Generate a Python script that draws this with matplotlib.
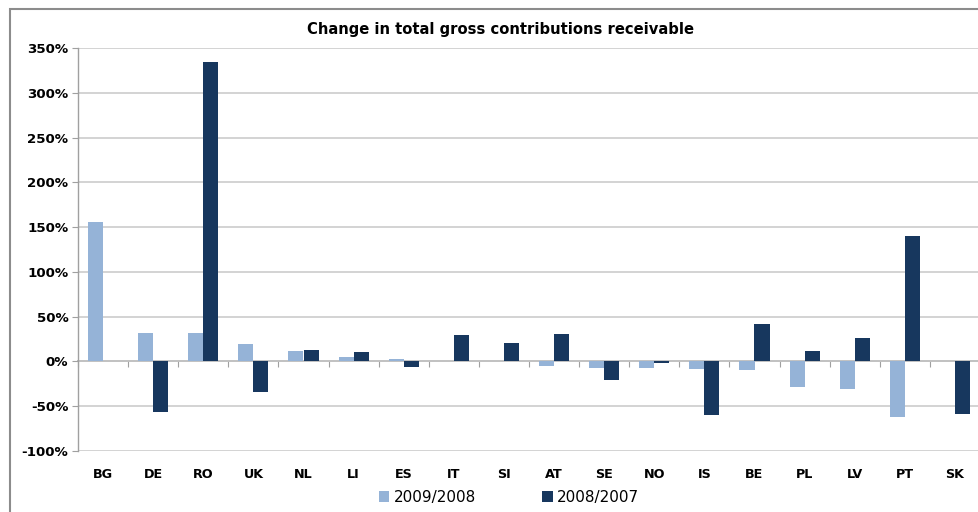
import numpy as np
import matplotlib.pyplot as plt
from matplotlib.patches import Rectangle
from matplotlib.ticker import FuncFormatter

# --- data (in %) ---
countries = ['BG', 'DE', 'RO', 'UK', 'NL', 'LI', 'ES', 'IT', 'SI',
             'AT', 'SE', 'NO', 'IS', 'BE', 'PL', 'LV', 'PT', 'SK']
chg_2009_2008 = [156, 32, 32, 19, 12, 5, 3, 1, 0,
                 -5, -7, -7, -8, -10, -28, -31, -62, 0]
chg_2008_2007 = [0, -57, 334, -34, 13, 10, -6, 30, 21,
                 31, -21, -2, -60, 42, 12, 26, 140, -59]

light = '#95B3D7'
dark = '#17375E'
grid_c = '#C8C8C8'
axis_c = '#A0A0A0'

fig = plt.figure(figsize=(9.79, 5.12), dpi=100)
ax = fig.add_axes([78 / 979, 1 - 451 / 512, 902 / 979, 403 / 512])

x = np.arange(len(countries))
w = 0.3
ax.bar(x - w / 2, chg_2009_2008, w, color=light, label='2009/2008', zorder=3)
ax.bar(x + w / 2, chg_2008_2007, w, color=dark, label='2008/2007', zorder=3)

ymin, ymax = -100, 350
ax.set_ylim(ymin, ymax)
ax.set_xlim(-0.5, len(countries) - 0.5)
ax.set_yticks(np.arange(ymin, ymax + 1, 50))
ax.yaxis.set_major_formatter(FuncFormatter(lambda v, p: f'{v:.0f}%'))
ax.grid(axis='y', color=grid_c, lw=1.1, zorder=0)

# category labels along the bottom, no tick marks
ax.set_xticks(x)
ax.set_xticklabels(countries, fontweight='bold', fontsize=9.2)
ax.tick_params(axis='x', length=0, pad=12)
ax.tick_params(axis='y', length=4, color=axis_c, labelsize=9.6, pad=3)
for lbl in ax.get_yticklabels():
    lbl.set_fontweight('bold')

for s in ['top', 'right', 'bottom']:
    ax.spines[s].set_visible(False)
ax.spines['left'].set_color(axis_c)
ax.spines['left'].set_linewidth(1.0)

# category axis drawn at 0% with boundary ticks
zero_pos = (0 - ymin) / (ymax - ymin)
sec = ax.secondary_xaxis(zero_pos)
sec.set_xticks(np.arange(-0.5, len(countries), 1.0))
sec.tick_params(axis='x', direction='out', length=4, color=axis_c, labelbottom=False,
                labeltop=False, top=False, bottom=True)
sec.spines['bottom'].set_color(axis_c)
sec.spines['bottom'].set_linewidth(1.2)
sec.spines['top'].set_visible(False)

fig.text(0.511, 0.943, 'Change in total gross contributions receivable',
         ha='center', va='center', fontsize=10.6, fontweight='bold')

leg = fig.legend(loc='center', bbox_to_anchor=(0.52, 0.028), ncol=2, frameon=False,
                 fontsize=11, handlelength=0.7, handleheight=0.7, handletextpad=0.3,
                 columnspacing=4.3)

# outer chart frame (cropped on right and bottom)
fig.patches.append(Rectangle((10 / 979, -0.1), 1.2, 1 - 9 / 512 + 0.1,
                             transform=fig.transFigure, fill=False,
                             edgecolor='#8C8C8C', lw=1.5))

fig.savefig('out.png', dpi=100)
